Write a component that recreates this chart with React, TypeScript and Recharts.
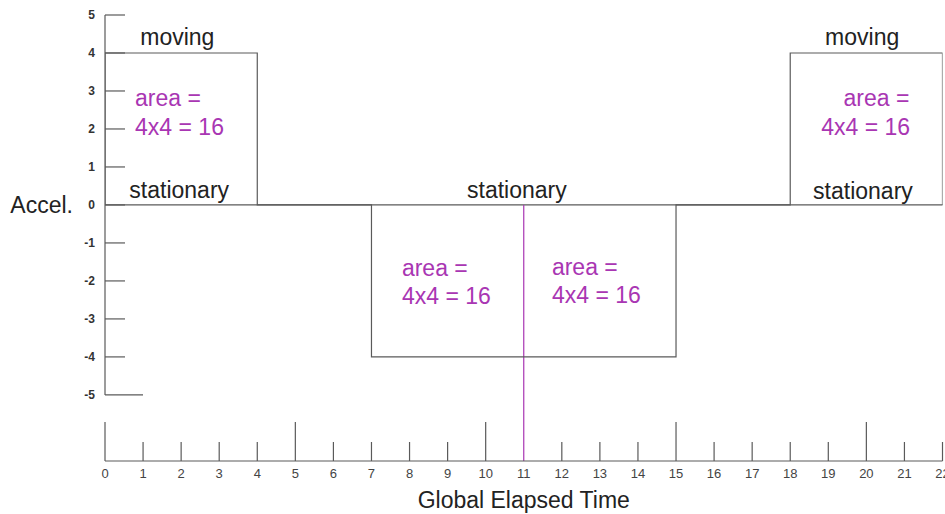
import { ComposedChart, Line, Scatter, XAxis, YAxis, ReferenceLine, Label } from 'recharts'

const TIME_TICKS = [0, 1, 2, 3, 4, 5, 6, 7, 8, 9, 10, 11, 12, 13, 14, 15, 16, 17, 18, 19, 20, 21, 22]
const MAJOR_TICKS = [0, 5, 10, 15, 20]
const ACCEL_TICKS = [-5, -4, -3, -2, -1, 0, 1, 2, 3, 4, 5]

// acceleration profile, traced as a step outline
const profileTime = [0, 0, 4, 4, 7, 7, 15, 15, 18, 18, 22, 22]
const profileAccel = [0, 4, 4, 0, 0, -4, -4, 0, 0, 4, 4, 0]

const noteText = ['moving', 'stationary', 'area =', '4x4 = 16', 'stationary', 'area =', '4x4 = 16', 'area =', '4x4 = 16', 'moving', 'stationary', 'area =', '4x4 = 16']
const noteTime = [1.9, 1.95, 0.79, 0.79, 10.82, 7.8, 7.8, 11.74, 11.74, 19.89, 19.91, 21.13, 21.15]
const noteAccel = [4.42, 0.39, 2.82, 2.05, 0.39, -1.66, -2.39, -1.63, -2.37, 4.42, 0.37, 2.82, 2.05]
const noteKind = ['plain', 'plain', 'area', 'area', 'plain', 'area', 'area', 'area', 'area', 'plain', 'plain', 'areaEnd', 'areaEnd']

const profile = profileTime.map((t, i) => ({ t, a: profileAccel[i] }))
const notes = noteText.map((text, i) => ({ t: noteTime[i], a: noteAccel[i], text, kind: noteKind[i] }))

const INK = '#222'
const LINE = '#5a5a5a'
const PURPLE = '#a936b3'
const FONT = '"Liberation Sans", Arial, sans-serif'

function TimeTick({ x, y, payload }: any) {
  const major = MAJOR_TICKS.includes(payload.value)
  const base = y - 8
  return (
    <g>
      {payload.value !== 11 && (
        <line x1={x} x2={x} y1={base} y2={base - (major ? 39 : 19)} stroke={LINE} strokeWidth={1.2} />
      )}
      <text x={x} y={y} dy="0.71em" textAnchor="middle" fontSize={13} fill="#444" fontFamily={FONT}>
        {payload.value}
      </text>
    </g>
  )
}

function AccelTick({ x, y, payload }: any) {
  const len = payload.value === -5 ? 38 : 20
  return (
    <g>
      <line x1={x + 10} x2={x + 10 + len} y1={y} y2={y} stroke={LINE} strokeWidth={1.2} />
      <text x={x} y={y} dy="0.35em" textAnchor="end" fontSize={12} fontWeight="bold" fill="#333" fontFamily={FONT}>
        {payload.value}
      </text>
    </g>
  )
}

function NoteShape({ cx, cy, payload }: any) {
  const anchor = payload.kind === 'plain' ? 'middle' : payload.kind === 'areaEnd' ? 'end' : 'start'
  return (
    <text
      x={cx}
      y={cy}
      dy="0.35em"
      textAnchor={anchor}
      fontSize={23}
      fill={payload.kind === 'plain' ? INK : PURPLE}
      fontFamily={FONT}
    >
      {payload.text}
    </text>
  )
}

export default function App() {
  return (
    <div style={{ position: 'absolute', left: 0, top: 0, background: '#fff' }}>
      <ComposedChart width={945} height={514} margin={{ top: 15, right: 2.5, bottom: 0, left: 0 }}>
        <XAxis
          dataKey="t"
          type="number"
          domain={[0, 22]}
          ticks={TIME_TICKS}
          interval={0}
          tickSize={0}
          tickMargin={8}
          tickLine={false}
          axisLine={{ stroke: LINE, strokeWidth: 1.2 }}
          tick={<TimeTick />}
          height={53}
          allowDataOverflow
        >
          <Label value="Global Elapsed Time" position="insideBottom" offset={6} fontSize={23} fill={INK} fontFamily={FONT} />
        </XAxis>
        <YAxis
          dataKey="a"
          type="number"
          domain={[-6.74, 5]}
          ticks={ACCEL_TICKS}
          interval={0}
          width={105}
          tickSize={0}
          tickMargin={10}
          tickLine={false}
          axisLine={false}
          tick={<AccelTick />}
          allowDataOverflow
        />
        <ReferenceLine
          segment={[{ x: 0, y: -5 }, { x: 0, y: 5 }]}
          stroke={LINE}
          strokeWidth={1.2}
          ifOverflow="visible"
        />
        <ReferenceLine y={0} stroke={LINE} strokeWidth={1.2} ifOverflow="visible">
          <Label value="Accel." position="left" offset={32} fontSize={23} fill={INK} fontFamily={FONT} />
        </ReferenceLine>
        <ReferenceLine
          segment={[{ x: 11, y: 0 }, { x: 11, y: -6.74 }]}
          stroke={PURPLE}
          strokeWidth={1.2}
          ifOverflow="visible"
        />
        <Line
          data={profile}
          dataKey="a"
          type="linear"
          stroke={LINE}
          strokeWidth={1.2}
          dot={false}
          activeDot={false}
          isAnimationActive={false}
        />
        <Scatter data={notes} dataKey="a" shape={<NoteShape />} isAnimationActive={false} />
      </ComposedChart>
    </div>
  )
}
